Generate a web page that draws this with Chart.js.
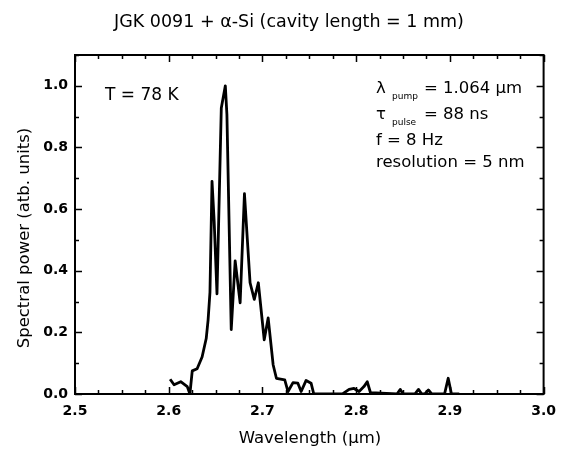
<!DOCTYPE html>
<html>
<head>
<meta charset="utf-8">
<script src="https://cdn.jsdelivr.net/npm/chart.js@4/dist/chart.umd.min.js"></script>
<style>
    body { margin: 0; background: #fff; }
    canvas { display: block; }
</style>
</head>
<body>
<canvas id="chartCanvas" width="565" height="456"></canvas>
<script>
var wavelength = [
    2.6015, 2.6057, 2.6128, 2.6198, 2.6226, 2.6251, 2.6303, 2.6356, 2.6400, 2.6420,
    2.6440, 2.6462, 2.6485, 2.6515, 2.6561, 2.6604, 2.6621, 2.6667, 2.6709, 2.6762,
    2.6808, 2.6868, 2.6913, 2.6956, 2.7019, 2.7061, 2.7114, 2.7149, 2.7238, 2.7273,
    2.7326, 2.7378, 2.7413, 2.7466, 2.7519, 2.7548, 2.7854, 2.7925, 2.7977, 2.8031,
    2.8083, 2.8118, 2.8153, 2.8436, 2.8471, 2.8499, 2.8626, 2.8665, 2.8700, 2.8732,
    2.8771, 2.8806, 2.8943, 2.8982, 2.9017, 2.9100
];
var power = [
    0.048, 0.030, 0.040, 0.024, 0.000, 0.075, 0.082, 0.120, 0.180, 0.240,
    0.330, 0.690, 0.560, 0.325, 0.928, 1.000, 0.906, 0.209, 0.432, 0.296,
    0.650, 0.361, 0.307, 0.361, 0.176, 0.247, 0.095, 0.051, 0.046, 0.008,
    0.037, 0.035, 0.008, 0.044, 0.035, 0.000, 0.000, 0.015, 0.018, 0.008,
    0.024, 0.040, 0.004, 0.000, 0.015, 0.000, 0.000, 0.015, 0.000, 0.000,
    0.013, 0.000, 0.000, 0.051, 0.000, 0.000
];
var xTicks = [2.5, 2.6, 2.7, 2.8, 2.9, 3.0];
var yTicks = [0.0, 0.2, 0.4, 0.6, 0.8, 1.0];

var chartTitle = 'JGK 0091 + \u03b1-Si (cavity length = 1 mm)';
var xTitle = 'Wavelength (\u03bcm)';
var yTitle = 'Spectral power (atb. units)';
var tempLabel = 'T = 78 K';
var infoLines = [
    ['\u03bb', 'pump', '= 1.064 \u03bcm'],
    ['\u03c4', 'pulse', '= 88 ns'],
    ['f = 8 Hz'],
    ['resolution = 5 nm']
];

var FONT = '"DejaVu Sans", sans-serif';

var points = wavelength.map(function (x, i) {
    return { x: x, y: power[i] };
});

// inward ticks on all four sides, plus the frame
var framePlugin = {
    id: 'frame',
    afterDraw: function (chart) {
        var ctx = chart.ctx;
        var a = chart.chartArea;
        var xs = chart.scales.x;
        var ys = chart.scales.y;
        var i, v, px, py, len;

        ctx.save();
        ctx.strokeStyle = '#000';
        ctx.lineWidth = 1.5;
        ctx.beginPath();
        for (i = 0; i <= 20; i++) {
            v = xTicks[0] + i * 0.025;
            px = Math.round(xs.getPixelForValue(v)) + 0.5;
            len = i % 4 === 0 ? 7 : 4;
            ctx.moveTo(px, a.bottom);
            ctx.lineTo(px, a.bottom - len);
            ctx.moveTo(px, a.top);
            ctx.lineTo(px, a.top + len);
        }
        for (i = 0; i <= 11; i++) {
            v = i * 0.1;
            py = Math.round(ys.getPixelForValue(v)) + 0.5;
            len = i % 2 === 0 ? 7 : 4;
            ctx.moveTo(a.left, py);
            ctx.lineTo(a.left + len, py);
            ctx.moveTo(a.right, py);
            ctx.lineTo(a.right - len, py);
        }
        ctx.stroke();

        ctx.lineWidth = 2;
        ctx.strokeRect(a.left, a.top, a.right - a.left, a.bottom - a.top);
        ctx.restore();
    }
};

// title, axis titles and the text notes inside the plot
var textPlugin = {
    id: 'texts',
    afterDraw: function (chart) {
        var ctx = chart.ctx;
        ctx.save();
        ctx.fillStyle = '#000';
        ctx.textBaseline = 'alphabetic';

        ctx.font = '17.5px ' + FONT;
        ctx.textAlign = 'center';
        ctx.fillText(chartTitle, 289, 27);

        ctx.font = '16.5px ' + FONT;
        ctx.fillText(xTitle, 310, 443);

        ctx.save();
        ctx.translate(29, 238);
        ctx.rotate(-Math.PI / 2);
        ctx.fillText(yTitle, 0, 0);
        ctx.restore();

        ctx.textAlign = 'left';
        ctx.font = '17px ' + FONT;
        ctx.fillText(tempLabel, 105, 100);

        var baselines = [93, 119, 145, 167];
        infoLines.forEach(function (line, i) {
            var y = baselines[i];
            ctx.font = '16.5px ' + FONT;
            if (line.length === 3) {
                ctx.fillText(line[0], 376, y);
                ctx.font = '9px ' + FONT;
                ctx.fillText(line[1], 392, y + 6);
                ctx.font = '16.5px ' + FONT;
                ctx.fillText(line[2], 424, y);
            } else {
                ctx.fillText(line[0], 376, y);
            }
        });
        ctx.restore();
    }
};

var ctx = document.getElementById('chartCanvas').getContext('2d');

var chart = new Chart(ctx, {
    type: 'scatter',
    data: {
        datasets: [{
            label: 'spectrum',
            data: points,
            showLine: true,
            borderColor: '#000',
            borderWidth: 2.8,
            borderJoinStyle: 'round',
            pointRadius: 0,
            tension: 0,
            fill: false
        }]
    },
    options: {
        responsive: false,
        devicePixelRatio: 1,
        animation: false,
        layout: {
            padding: { top: 55, right: 17, left: 0, bottom: 0 }
        },
        plugins: {
            legend: { display: false },
            tooltip: { enabled: false },
            title: { display: false }
        },
        scales: {
            x: {
                type: 'linear',
                min: 2.5,
                max: 3.0,
                grid: { display: false, drawTicks: false },
                border: { display: false },
                afterBuildTicks: function (scale) {
                    scale.ticks = xTicks.map(function (v) { return { value: v }; });
                },
                afterFit: function (scale) {
                    scale.height = 62;
                },
                ticks: {
                    color: '#000',
                    padding: 9,
                    maxRotation: 0,
                    autoSkip: false,
                    font: { family: FONT, size: 14, weight: 'bold' },
                    callback: function (v) { return Number(v).toFixed(1); }
                }
            },
            y: {
                type: 'linear',
                min: 0,
                max: 1.1,
                grid: { display: false, drawTicks: false },
                border: { display: false },
                afterBuildTicks: function (scale) {
                    scale.ticks = yTicks.map(function (v) { return { value: v }; });
                },
                afterFit: function (scale) {
                    scale.width = 75;
                },
                ticks: {
                    color: '#000',
                    padding: 7,
                    font: { family: FONT, size: 14, weight: 'bold' },
                    callback: function (v) { return Number(v).toFixed(1); }
                }
            }
        }
    },
    plugins: [framePlugin, textPlugin]
});
</script>
</body>
</html>
